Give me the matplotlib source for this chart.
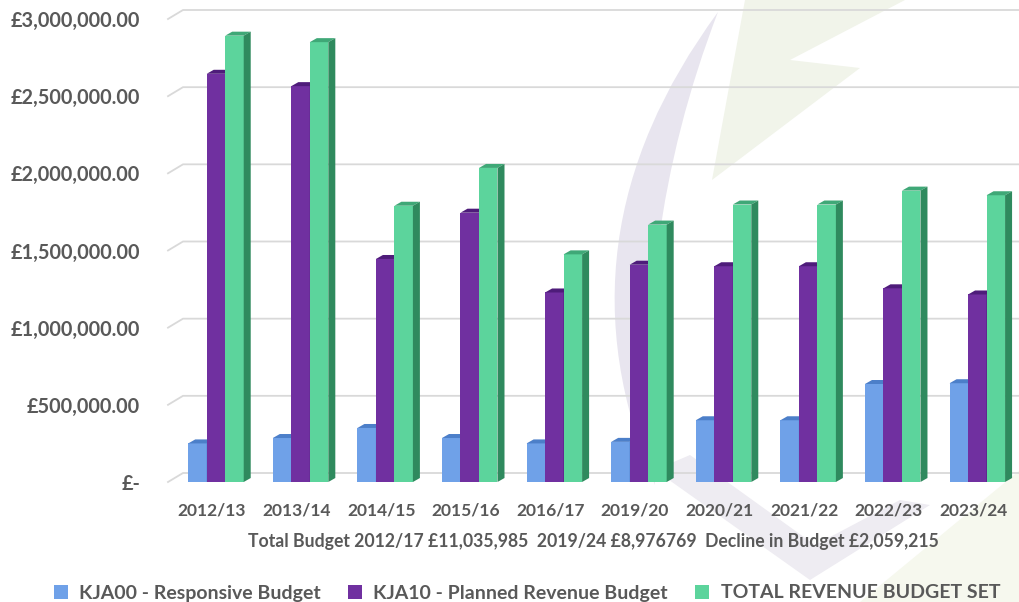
import matplotlib
matplotlib.use("Agg")
import matplotlib.pyplot as plt
import matplotlib.transforms as mtransforms
from matplotlib.patches import Polygon, PathPatch, Rectangle
from matplotlib.path import Path

# ---------------- data ----------------
years = ["2012/13", "2013/14", "2014/15", "2015/16", "2016/17",
         "2019/20", "2020/21", "2021/22", "2022/23", "2023/24"]
responsive = [250000, 285000, 350000, 285000, 250000,
              260000, 400000, 400000, 635000, 640000]
planned = [2645000, 2565000, 1445000, 1745000, 1228000,
           1408000, 1398000, 1398000, 1255000, 1215000]
total = [2892000, 2850000, 1790000, 2035000, 1475000,
         1668000, 1798000, 1798000, 1888000, 1858000]
series_names = ["KJA00 - Responsive Budget",
                "KJA10 - Planned Revenue Budget",
                "TOTAL REVENUE BUDGET SET"]
y_ticks = [0, 500000, 1000000, 1500000, 2000000, 2500000, 3000000]
x_title = "Total Budget 2012/17 £11,035,985  2019/24 £8,976769  Decline in Budget £2,059,215"

# ---------------- style ----------------
FONT = ["Lato", "DejaVu Sans"]
TXT = "#595959"
front_cols = ["#6FA1E8", "#7030A0", "#5CD49C"]
top_cols = ["#4C7FC9", "#4E1C7A", "#3FA877"]
side_cols = ["#4C7FC9", "#4E1C7A", "#2F8A5E"]

W, H = 1020, 602
fig = plt.figure(figsize=(W / 100, H / 100), dpi=100)
fig.patch.set_facecolor("white")

# ---- faint watermark logo (decoration) in a background axes ----
bg = fig.add_axes([0, 0, 1, 1], zorder=0)
bg.set_xlim(0, W)
bg.set_ylim(H, 0)
bg.axis("off")
cres = Path([(718, 12), (550, 240), (655, 485), (630, 240), (718, 12)],
            [Path.MOVETO, Path.CURVE3, Path.CURVE3, Path.CURVE3, Path.CURVE3])
bg.add_patch(PathPatch(cres, fc="#E8E5EF", ec="none"))
bg.add_patch(Polygon([(655, 470), (690, 455), (815, 545), (900, 500),
                      (930, 505), (810, 580)], closed=True,
                     fc="#EEECF2", ec="none"))
bg.add_patch(Polygon([(745, 0), (905, 0), (790, 60), (860, 68),
                      (712, 180)], closed=True, fc="#F1F4EA", ec="none"))
bg.add_patch(Polygon([(860, 602), (1020, 470), (1020, 602)], closed=True,
                     fc="#F6F8EE", ec="none"))

# ---------------- axes ----------------
L, R, B, T = 168, 1012, 482, 19
ax = fig.add_axes([L / W, (H - B) / H, (R - L) / W, (B - T) / H], zorder=2)
ax.patch.set_alpha(0)
xlim = (-0.567, 9.41)
ax.set_xlim(*xlim)
ax.set_ylim(0, 3000000)
for s in ax.spines.values():
    s.set_visible(False)

ppx = (R - L) / (xlim[1] - xlim[0])      # pixels per x unit
ppy = (B - T) / 3000000                  # pixels per £

# back-plane gridlines with 3D slant
gdx, gdy = 15 / ppx, 9 / ppy
for v in y_ticks:
    ax.plot([xlim[0], xlim[0] + gdx, xlim[1] + 20 / ppx], [v, v + gdy, v + gdy],
            color="#D9D9D9", lw=1.3, clip_on=False, zorder=1)

# bars with 3D faces
w = 18.5 / ppx
dx, dy = 7 / ppx, 4 / ppy
x = list(range(len(years)))
for k, (vals, name) in enumerate(zip([responsive, planned, total], series_names)):
    xs = [xi + (k - 1) * w for xi in x]
    bars = ax.bar(xs, vals, width=w, color=front_cols[k], label=name,
                  zorder=3 + k, linewidth=0)
    for b in bars:
        x0, x1, h = b.get_x(), b.get_x() + b.get_width(), b.get_height()
        ax.add_patch(Polygon([(x0, h), (x1, h), (x1 + dx, h + dy), (x0 + dx, h + dy)],
                             closed=True, fc=top_cols[k], ec="none", zorder=3 + k,
                             clip_on=False))
        ax.add_patch(Polygon([(x1, 0), (x1, h), (x1 + dx, h + dy), (x1 + dx, dy)],
                             closed=True, fc=side_cols[k], ec="none", zorder=3 + k,
                             clip_on=False))

# ticks
ax.set_yticks(y_ticks)
ax.set_yticklabels(["£-" if v == 0 else f"£{v:,.2f}" for v in y_ticks],
                   fontsize=14.3, fontweight="bold", color=TXT, family=FONT)
ax.set_xticks(x)
ax.set_xticklabels(years, fontsize=12.5, fontweight="bold", color=TXT, family=FONT)
ax.tick_params(axis="y", length=0, pad=20)
ax.tick_params(axis="x", length=0, pad=15)
shift = mtransforms.ScaledTranslation(-4 / 100, 0, fig.dpi_scale_trans)
for lab in ax.get_xticklabels():
    lab.set_transform(lab.get_transform() + shift)

fig.text(593 / W, 1 - 541 / H, x_title, ha="center", va="center", fontsize=12.7,
         fontweight="bold", color=TXT, family=FONT, zorder=3)

handles = [Rectangle((0, 0), 1, 1, fc=c, ec="none") for c in front_cols]
leg = fig.legend(handles, series_names, loc="center",
                 bbox_to_anchor=(527 / W, 1 - 593 / H),
                 ncol=3, frameon=False, handlelength=0.7, handleheight=0.7,
                 handletextpad=0.6, columnspacing=1.4,
                 prop={"family": FONT, "weight": "bold", "size": 14},
                 labelcolor=TXT)
leg.set_zorder(3)

fig.savefig("out.png", dpi=100, facecolor="white")
